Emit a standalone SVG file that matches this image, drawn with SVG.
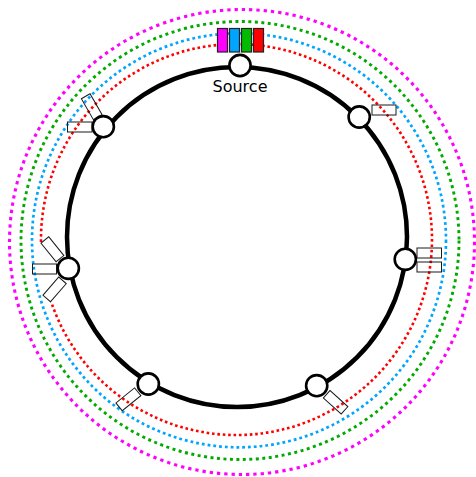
<svg xmlns="http://www.w3.org/2000/svg" width="476" height="477" viewBox="0 0 476 477">
<style>
.ring{fill:none;stroke:#000;stroke-width:4.5}
.node{fill:#fff;stroke:#000;stroke-width:2.6}
.flt{fill:none;stroke:#1a1a1a;stroke-width:1}
.mux{stroke:#222;stroke-width:1.2}
.lam{fill:none}
.red{stroke:#ff0000;stroke-width:2.6;stroke-dasharray:2.6 2.8}
.blue{stroke:#00a5ff;stroke-width:2.7;stroke-dasharray:2.8 3.0}
.green{stroke:#00aa00;stroke-width:2.9;stroke-dasharray:3 3.5}
.mag{stroke:#ff00ff;stroke-width:3.1;stroke-dasharray:3.3 4}
.lbl{font-family:"DejaVu Sans",sans-serif;font-size:16px;fill:#000}
</style>
<rect width="476" height="477" fill="#fff"/>
<g id="connectors">
<circle class="lam mag" cx="242" cy="242" r="232.5"/>
<circle class="lam green" cx="240" cy="240.5" r="219"/>
<circle class="lam blue" cx="239" cy="240.3" r="207"/>
<path class="lam red" d="M41,241.9 A195.5,195.5 0 1 1 51.2,301.9"/>
<circle class="ring" cx="237" cy="237" r="170"/>
</g>
<g id="source">
<rect class="mux" x="217.5" y="28.5" width="10" height="23.5" fill="#ff00ff"/>
<rect class="mux" x="229.5" y="28.5" width="10" height="23.5" fill="#00a5ff"/>
<rect class="mux" x="241.5" y="28.5" width="10" height="23.5" fill="#00bb00"/>
<rect class="mux" x="253.5" y="28.5" width="10" height="23.5" fill="#ff0000"/>
<circle class="node" cx="240" cy="65.5" r="10.6"/>
<text class="lbl" x="240" y="92" text-anchor="middle">Source</text>
</g>
<g id="node-ur">
<rect class="flt" x="372" y="105" width="24" height="10"/>
<circle class="node" cx="359.2" cy="117" r="10.6"/>
</g>
<g id="node-r">
<rect class="flt" x="417" y="248" width="24.5" height="10"/>
<rect class="flt" x="417" y="262" width="24.5" height="10"/>
<circle class="node" cx="405.3" cy="259.3" r="10.6"/>
</g>
<g id="node-br">
<rect class="flt" x="-12" y="-5" width="24" height="10" transform="translate(335.6,402.3) rotate(42)"/>
<circle class="node" cx="316.7" cy="385.7" r="10.6"/>
</g>
<g id="node-bl">
<rect class="flt" x="-12" y="-5" width="24" height="10" transform="translate(128.4,399.3) rotate(-39)"/>
<circle class="node" cx="148.3" cy="384" r="10.6"/>
</g>
<g id="node-l">
<rect class="flt" x="32.5" y="264" width="24" height="10"/>
<rect class="flt" x="-12" y="-5" width="24" height="10" transform="translate(52.4,249.3) rotate(51)"/>
<rect class="flt" x="-12" y="-5" width="24" height="10" transform="translate(54.6,289.4) rotate(-49)"/>
<circle class="node" cx="68.3" cy="268.3" r="10.6"/>
</g>
<g id="node-ul">
<rect class="flt" x="67.5" y="122" width="24.5" height="10"/>
<rect class="flt" x="-12" y="-5" width="24" height="10" transform="translate(91.7,106.7) rotate(60)"/>
<circle class="node" cx="103.3" cy="126.7" r="10.6"/>
</g>
</svg>
